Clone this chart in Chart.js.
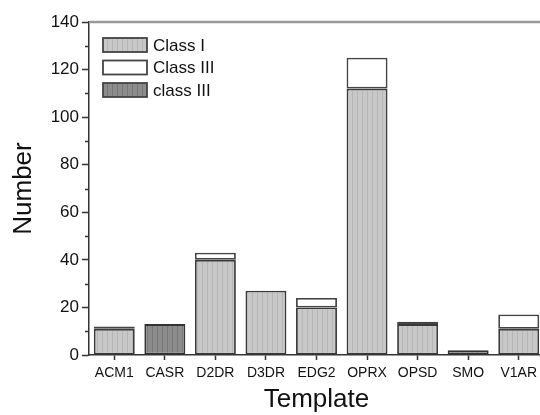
<!DOCTYPE html>
<html>
<head>
<meta charset="utf-8">
<script src="https://cdn.jsdelivr.net/npm/chart.js@4.4.1/dist/chart.umd.min.js"></script>
<style>
  html, body { margin: 0; padding: 0; background: #fff; overflow: hidden; }
  #wrap { width: 544px; height: 415px; }
</style>
</head>
<body>
<div id="wrap"><canvas id="chart" width="544" height="415"></canvas></div>
<script>
// data
var templates = ["ACM1", "CASR", "D2DR", "D3DR", "EDG2", "OPRX", "OPSD", "SMO", "V1AR"];
var classOne = [11, null, 40, 27, 20, 112, 13, null, 11];
var classThree = [1, null, 3, null, 4, 13, 1, null, 6];
var classThreeDark = [null, 13, null, null, null, null, null, 2, null];
var yTicks = [0, 20, 40, 60, 80, 100, 120, 140];
var yMinorTicks = [10, 30, 50, 70, 90, 110, 130];

// striped fill like the original
function stripes(base, line) {
    var c = document.createElement("canvas");
    c.width = 5; c.height = 4;
    var g = c.getContext("2d");
    g.fillStyle = base;
    g.fillRect(0, 0, 5, 4);
    g.fillStyle = line;
    g.fillRect(2, 0, 1, 4);
    return g.createPattern(c, "repeat");
}

var ctx = document.getElementById("chart").getContext("2d");

// Legend, minor ticks and top frame line
var extras = {
    id: "extras",
    afterDraw: function (chart) {
        var c = chart.ctx, area = chart.chartArea, y = chart.scales.y;
        c.save();
        // top frame line
        c.strokeStyle = "#999";
        c.lineWidth = 2.5;
        c.beginPath();
        c.moveTo(area.left, area.top);
        c.lineTo(chart.width, area.top);
        c.stroke();
        // minor ticks
        c.strokeStyle = "#333";
        c.lineWidth = 1.5;
        yMinorTicks.forEach(function (v) {
            var py = Math.round(y.getPixelForValue(v)) + 0.5;
            c.beginPath();
            c.moveTo(area.left - 4, py);
            c.lineTo(area.left, py);
            c.stroke();
        });
        // legend
        c.font = "17px 'Liberation Sans', Arial, sans-serif";
        c.textBaseline = "middle";
        chart.data.datasets.forEach(function (ds, i) {
            var cy = 45 + i * 22.5;
            c.fillStyle = ds.backgroundColor;
            c.fillRect(103, cy - 7, 44, 14);
            c.strokeStyle = "#444";
            c.lineWidth = 1.8;
            c.strokeRect(103, cy - 7, 44, 14);
            c.fillStyle = "#111";
            c.fillText(ds.label, 153, cy + 1);
        });
        c.restore();
    }
};

var myChart = new Chart(ctx, {
    type: "bar",
    data: {
        labels: templates,
        datasets: [{
                label: "Class I",
                data: classOne,
                backgroundColor: stripes("#c8c8c8", "#b6b6b6"),
                borderColor: "#3a3a3a",
                borderWidth: 1.8,
                borderSkipped: false
            },
            {
                label: "Class III",
                data: classThree,
                backgroundColor: "#ffffff",
                borderColor: "#444",
                borderWidth: 1.8,
                borderSkipped: false
            },
            {
                label: "class III",
                data: classThreeDark,
                backgroundColor: stripes("#8c8c8c", "#777777"),
                borderColor: "#333",
                borderWidth: 1.8,
                borderSkipped: false
            }
        ]
    },
    options: {
        responsive: false,
        animation: false,
        layout: { padding: { top: 22, right: 0, left: 0, bottom: 0 } },
        plugins: {
            legend: { display: false },
            tooltip: { enabled: false }
        },
        datasets: {
            bar: { barPercentage: 0.81, categoryPercentage: 1 }
        },
        scales: {
            x: {
                stacked: true,
                offset: true,
                border: { color: "#333", width: 1.5 },
                grid: { offset: false, drawOnChartArea: false, tickLength: 5, tickColor: "#333", tickWidth: 1.5 },
                ticks: {
                    color: "#111",
                    padding: 5,
                    maxRotation: 0,
                    autoSkip: false,
                    font: { family: "'Liberation Sans', Arial, sans-serif", size: 14 }
                },
                title: {
                    display: true,
                    text: "Template",
                    color: "#111",
                    padding: { top: 0, bottom: 0 },
                    font: { family: "'Liberation Sans', Arial, sans-serif", size: 26 }
                },
                afterFit: function (scale) { scale.height = 60; }
            },
            y: {
                stacked: true,
                min: 0,
                max: 140,
                afterBuildTicks: function (scale) {
                    scale.ticks = yTicks.map(function (v) { return { value: v }; });
                },
                border: { color: "#333", width: 1.5 },
                grid: { drawOnChartArea: false, tickLength: 7, tickColor: "#333", tickWidth: 1.5 },
                ticks: {
                    color: "#111",
                    padding: 3,
                    font: { family: "'Liberation Sans', Arial, sans-serif", size: 17 }
                },
                title: {
                    display: true,
                    text: "Number",
                    color: "#111",
                    padding: { top: 8, bottom: 0 },
                    font: { family: "'Liberation Sans', Arial, sans-serif", size: 26 }
                },
                afterFit: function (scale) { scale.width = 89; }
            }
        }
    },
    plugins: [extras]
});
</script>
</body>
</html>
